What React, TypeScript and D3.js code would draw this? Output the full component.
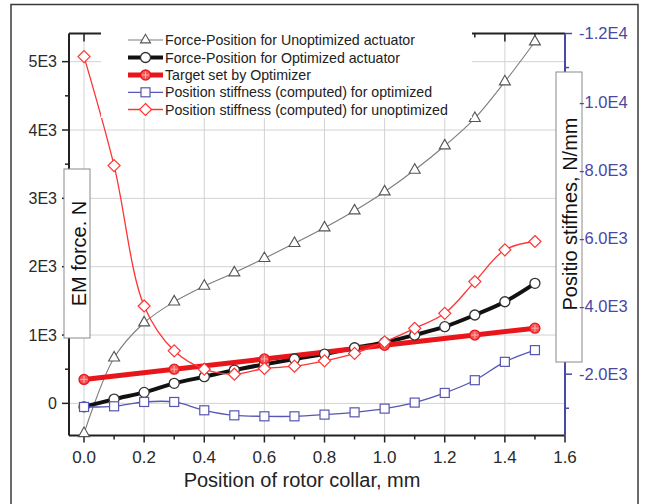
import React from 'react';
import * as d3 from 'd3';

// Rotor collar positions (mm)
const positions = [0.0, 0.1, 0.2, 0.3, 0.4, 0.5, 0.6, 0.7, 0.8, 0.9, 1.0, 1.1, 1.2, 1.3, 1.4, 1.5];
// EM force (N), left axis
const forceUnoptimized = [-440, 667, 1180, 1487, 1717, 1912, 2122, 2342, 2570, 2819, 3097, 3414, 3770, 4171, 4707, 5292];
const forceOptimized = [-50, 63, 161, 293, 390, 487, 571, 649, 722, 814, 892, 1000, 1122, 1293, 1487, 1756];
const targetPositions = [0.0, 0.3, 0.6, 1.0, 1.3, 1.5];
const targetForce = [350, 500, 650, 850, 1000, 1100];
// Position stiffness (N/mm), right axis
const stiffnessOptimized = [-1037, -1057, -1184, -1184, -940, -792, -763, -763, -813, -880, -989, -1166, -1449, -1823, -2362, -2706];
const stiffnessUnoptimized = [-11323, -8123, -4001, -2685, -2146, -1999, -2167, -2235, -2391, -2609, -2950, -3345, -3786, -4717, -5650, -5894];

// Axis ticks
const xMajorTicks = [0, 0.2, 0.4, 0.6, 0.8, 1.0, 1.2, 1.4, 1.6];
const xMinorTicks = [0.1, 0.3, 0.5, 0.7, 0.9, 1.1, 1.3, 1.5];
const leftTicks = [0, 1000, 2000, 3000, 4000, 5000];
const leftTickLabels = ['0', '1E3', '2E3', '3E3', '4E3', '5E3'];
const leftMinorTicks = [500, 1500, 2500, 3500, 4500];
const rightTicks = [-12000, -10000, -8000, -6000, -4000, -2000];
const rightTickLabels = ['-1.2E4', '-1.0E4', '-8.0E3', '-6.0E3', '-4.0E3', '-2.0E3'];
const rightMinorTicks = [-11000, -9000, -7000, -5000, -3000, -1000];

const legendLabels = [
  'Force-Position for Unoptimized actuator',
  'Force-Position for Optimized actuator',
  'Target set by Optimizer',
  'Position stiffness (computed) for optimized',
  'Position stiffness (computed) for unoptimized',
];

const FONT = "'Liberation Sans', Arial, sans-serif";
const GRAY = '#7d7d7d';
const RED = '#e8161b';
const PINK = '#ff3434';
const BLUE = '#5656b4';
const AXIS_BLUE = '#4848a6';

const plot = { left: 69, right: 565, top: 33.5, bottom: 435.5 };

const x = d3.scaleLinear().domain([-0.05, 1.6]).range([plot.left, plot.right]);
const yL = d3.scaleLinear().domain([-470, 5412]).range([plot.bottom, plot.top]);
const yR = d3.scaleLinear().domain([-200, -12000]).range([plot.bottom, plot.top]);

type Pt = [number, number];
const zip = (xs: number[], ys: number[]): Pt[] => xs.map((v, i) => [v, ys[i]]);

function Triangle({ cx, cy, s = 11 }: { cx: number; cy: number; s?: number }) {
  const h = (s * Math.sqrt(3)) / 2;
  const p = [
    [cx, cy - (2 * h) / 3],
    [cx - s / 2, cy + h / 3],
    [cx + s / 2, cy + h / 3],
  ];
  return <polygon points={p.map((q) => q.join(',')).join(' ')} fill="#fff" stroke="#555" strokeWidth={1.1} />;
}
function Circle({ cx, cy }: { cx: number; cy: number }) {
  return <circle cx={cx} cy={cy} r={5} fill="#fff" stroke="#333" strokeWidth={1.3} />;
}
function TargetMark({ cx, cy }: { cx: number; cy: number }) {
  return (
    <g>
      <circle cx={cx} cy={cy} r={5} fill="#f25555" stroke={RED} strokeWidth={1.3} />
      <line x1={cx - 3.5} x2={cx + 3.5} y1={cy} y2={cy} stroke="#ffb0b0" strokeWidth={1} />
      <line x1={cx} x2={cx} y1={cy - 3.5} y2={cy + 3.5} stroke="#ffb0b0" strokeWidth={1} />
    </g>
  );
}
function Square({ cx, cy }: { cx: number; cy: number }) {
  return <rect x={cx - 4.5} y={cy - 4.5} width={9} height={9} fill="#fff" stroke={BLUE} strokeWidth={1.2} />;
}
function Diamond({ cx, cy }: { cx: number; cy: number }) {
  const r = 6;
  return (
    <polygon
      points={`${cx},${cy - r} ${cx + r},${cy} ${cx},${cy + r} ${cx - r},${cy}`}
      fill="#fff"
      stroke={PINK}
      strokeWidth={1.2}
    />
  );
}

export default function App() {
  const curve = d3.curveCatmullRom.alpha(0.5);
  const lineUnopt = d3.line<Pt>().x((d) => x(d[0])).y((d) => yL(d[1])).curve(curve)(zip(positions, forceUnoptimized)) as string;
  const lineOpt = d3.line<Pt>().x((d) => x(d[0])).y((d) => yL(d[1])).curve(curve)(zip(positions, forceOptimized)) as string;
  const lineTarget = d3.line<Pt>().x((d) => x(d[0])).y((d) => yL(d[1]))(zip(targetPositions, targetForce)) as string;
  const lineStiffOpt = d3.line<Pt>().x((d) => x(d[0])).y((d) => yR(d[1])).curve(curve)(zip(positions, stiffnessOptimized)) as string;
  const lineStiffUnopt = d3.line<Pt>().x((d) => x(d[0])).y((d) => yR(d[1])).curve(curve)(zip(positions, stiffnessUnoptimized)) as string;

  const legendX = 128;
  const legendRows = [40, 57.5, 75, 92.3, 109.5];

  return (
    <svg
      width={646}
      height={504}
      style={{ position: 'absolute', left: 0, top: 0, background: '#fff' }}
      fontFamily={FONT}
    >
      <rect x={0} y={0} width={646} height={504} fill="#fff" />
      {/* outer frame */}
      <rect x={11} y={4.5} width={627} height={540} fill="none" stroke="#3a3a3a" strokeWidth={1.5} />

      {/* grid */}
      <g stroke="#d2d2d2" strokeWidth={1}>
        {xMajorTicks.slice(0, -1).map((t) => (
          <line key={'gx' + t} x1={x(t)} x2={x(t)} y1={plot.top} y2={plot.bottom} />
        ))}
        {leftTicks.map((t) => (
          <line key={'gy' + t} x1={plot.left} x2={plot.right} y1={yL(t)} y2={yL(t)} />
        ))}
      </g>

      {/* top axis (mirror, inward ticks) */}
      <g stroke="#222" strokeWidth={1.5}>
        <line x1={plot.left} x2={plot.right} y1={plot.top} y2={plot.top} strokeWidth={2} />
        {xMajorTicks.map((t) => (
          <line key={'tt' + t} x1={x(t)} x2={x(t)} y1={plot.top} y2={plot.top + 8} />
        ))}
        {xMinorTicks.map((t) => (
          <line key={'tm' + t} x1={x(t)} x2={x(t)} y1={plot.top} y2={plot.top + 4} />
        ))}
      </g>

      {/* left axis */}
      <g stroke="#222" strokeWidth={1.5}>
        <line x1={plot.left} x2={plot.left} y1={plot.top} y2={plot.bottom} strokeWidth={2} />
        {leftTicks.map((t) => (
          <line key={'lt' + t} x1={plot.left - 7} x2={plot.left} y1={yL(t)} y2={yL(t)} />
        ))}
        {leftMinorTicks.map((t) => (
          <line key={'lm' + t} x1={plot.left - 4} x2={plot.left} y1={yL(t)} y2={yL(t)} />
        ))}
      </g>
      <g fontSize={16} fill="#2a2a2a" textAnchor="end">
        {leftTicks.map((t, i) => (
          <text key={'ll' + t} x={plot.left - 12} y={yL(t)} dy="0.36em">
            {leftTickLabels[i]}
          </text>
        ))}
      </g>

      {/* bottom axis */}
      <g stroke="#222" strokeWidth={1.5}>
        <line x1={plot.left} x2={plot.right} y1={plot.bottom} y2={plot.bottom} strokeWidth={2} />
        {xMajorTicks.map((t) => (
          <line key={'bt' + t} x1={x(t)} x2={x(t)} y1={plot.bottom} y2={plot.bottom + 7} />
        ))}
        {xMinorTicks.map((t) => (
          <line key={'bm' + t} x1={x(t)} x2={x(t)} y1={plot.bottom} y2={plot.bottom + 4} />
        ))}
      </g>
      <g fontSize={17} fill="#2a2a2a" textAnchor="middle">
        {xMajorTicks.map((t) => (
          <text key={'bl' + t} x={x(t)} y={457} dy="0.36em">
            {d3.format('.1f')(t)}
          </text>
        ))}
      </g>
      <text x={302} y={480} dy="0.36em" fontSize={20} textAnchor="middle" fill="#222">
        Position of rotor collar, mm
      </text>

      {/* right axis */}
      <g stroke={AXIS_BLUE} strokeWidth={1.5}>
        <line x1={plot.right} x2={plot.right} y1={plot.top} y2={plot.bottom} strokeWidth={2} />
        {rightTicks.map((t) => (
          <line key={'rt' + t} x1={plot.right} x2={plot.right + 7} y1={yR(t)} y2={yR(t)} />
        ))}
        {rightMinorTicks.map((t) => (
          <line key={'rm' + t} x1={plot.right} x2={plot.right + 4} y1={yR(t)} y2={yR(t)} />
        ))}
      </g>

      {/* series */}
      <path d={lineUnopt} fill="none" stroke={GRAY} strokeWidth={1.1} />
      <path d={lineOpt} fill="none" stroke="#111" strokeWidth={4} />
      <path d={lineTarget} fill="none" stroke={RED} strokeWidth={5} />
      <path d={lineStiffOpt} fill="none" stroke={BLUE} strokeWidth={1.3} />
      <path d={lineStiffUnopt} fill="none" stroke={PINK} strokeWidth={1.3} />

      {positions.map((p, i) => (
        <Triangle key={'tr' + i} cx={x(p)} cy={yL(forceUnoptimized[i])} />
      ))}
      {positions.map((p, i) => (
        <Circle key={'ci' + i} cx={x(p)} cy={yL(forceOptimized[i])} />
      ))}
      {targetPositions.map((p, i) => (
        <TargetMark key={'tg' + i} cx={x(p)} cy={yL(targetForce[i])} />
      ))}
      {positions.map((p, i) => (
        <Square key={'sq' + i} cx={x(p)} cy={yR(stiffnessOptimized[i])} />
      ))}
      {positions.map((p, i) => (
        <Diamond key={'di' + i} cx={x(p)} cy={yR(stiffnessUnoptimized[i])} />
      ))}

      {/* legend */}
      <rect x={101} y={24} width={371} height={94} fill="#fff" />
      <g fontSize={14.2} fill="#222">
        {legendLabels.map((lab, i) => (
          <text key={'lg' + i} x={165} y={legendRows[i]} dy="0.36em">
            {lab}
          </text>
        ))}
      </g>
      <line x1={legendX} x2={163} y1={legendRows[0]} y2={legendRows[0]} stroke={GRAY} strokeWidth={1.1} />
      <Triangle cx={145.5} cy={legendRows[0]} s={10} />
      <line x1={legendX} x2={163} y1={legendRows[1]} y2={legendRows[1]} stroke="#111" strokeWidth={4} />
      <Circle cx={145.5} cy={legendRows[1]} />
      <line x1={legendX} x2={163} y1={legendRows[2]} y2={legendRows[2]} stroke={RED} strokeWidth={5} />
      <TargetMark cx={145.5} cy={legendRows[2]} />
      <line x1={legendX} x2={163} y1={legendRows[3]} y2={legendRows[3]} stroke={BLUE} strokeWidth={1.3} />
      <Square cx={145.5} cy={legendRows[3]} />
      <line x1={legendX} x2={163} y1={legendRows[4]} y2={legendRows[4]} stroke={PINK} strokeWidth={1.3} />
      <Diamond cx={145.5} cy={legendRows[4]} />

      {/* axis titles in boxes */}
      <rect x={64} y={169} width={26} height={169} fill="#fff" stroke="#8a8a8a" strokeWidth={1} />
      <text
        transform="translate(78.5,253.5) rotate(-90)"
        textAnchor="middle"
        dy="0.36em"
        fontSize={20}
        fill="#111"
      >
        EM force. N
      </text>
      <rect x={556} y={72} width={26} height={290} fill="#fff" stroke="#8a8a8a" strokeWidth={1} />
      <text
        transform="translate(570,214) rotate(-90)"
        textAnchor="middle"
        dy="0.36em"
        fontSize={20}
        fill="#111"
      >
        Positio stiffnes, N/mm
      </text>

      {/* right tick labels sit above the title box */}
      <g fontSize={16.5} fill={AXIS_BLUE}>
        {rightTicks.map((t, i) => (
          <text key={'rl' + t} x={579} y={yR(t)} dy="0.36em">
            {rightTickLabels[i]}
          </text>
        ))}
      </g>
    </svg>
  );
}
